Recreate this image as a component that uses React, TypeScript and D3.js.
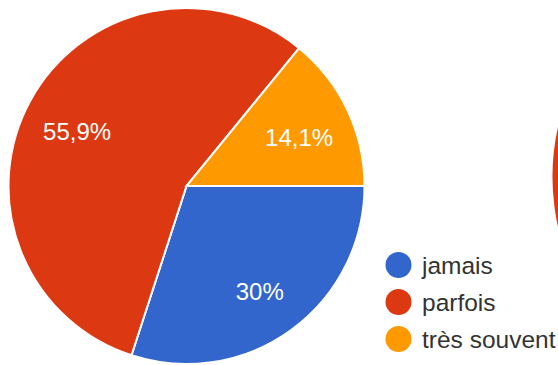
import React from "react";
import * as d3 from "d3";

const categories = ["jamais", "parfois", "très souvent"];
const values = [30, 55.9, 14.1];
const valueLabels = ["30%", "55,9%", "14,1%"];
const colors = ["#3366cc", "#dc3912", "#ff9900"];
// second (cut-off) pie on the right edge: only its left side (parfois) is visible
const secondValues = [25, 60, 15];

const W = 558;
const H = 365;

export default function App() {
  const cx = 186.5;
  const cy = 186;
  const R = 178;
  const pie = d3
    .pie<number>()
    .sort(null)
    .value((d) => d)
    .startAngle(Math.PI / 2)
    .endAngle(Math.PI / 2 + 2 * Math.PI);
  const arcs = pie(values);
  const arc = d3.arc<d3.PieArcDatum<number>>().innerRadius(0).outerRadius(R);
  const labelArc = d3
    .arc<d3.PieArcDatum<number>>()
    .innerRadius(R * 0.7)
    .outerRadius(R * 0.7);

  const R2 = 230;
  const arc2 = d3.arc<d3.PieArcDatum<number>>().innerRadius(0).outerRadius(R2);
  const arcs2 = pie(secondValues);
  const cx2 = 551.5 + R2;
  const cy2 = 177;

  const legendX = 398.5;
  const legendY0 = 265;
  const legendStep = 37;

  return (
    <svg
      width={W}
      height={H}
      style={{ position: "absolute", left: 0, top: 0, background: "#fff" }}
      fontFamily="'Liberation Sans', Arial, sans-serif"
    >
      <g transform={`translate(${cx},${cy})`}>
        {arcs.map((a, i) => (
          <path key={i} d={arc(a) || ""} fill={colors[i]} stroke="#fff" strokeWidth={2} />
        ))}
        {arcs.map((a, i) => {
          const [x, y] = labelArc.centroid(a);
          return (
            <text
              key={"l" + i}
              x={x}
              y={y}
              dy={5}
              textAnchor="middle"
              dominantBaseline="central"
              fill="#fff"
              fontSize={24}
            >
              {valueLabels[i]}
            </text>
          );
        })}
      </g>
      <g transform={`translate(${cx2},${cy2})`}>
        {arcs2.map((a, i) => (
          <path key={i} d={arc2(a) || ""} fill={colors[i]} stroke="#fff" strokeWidth={2} />
        ))}
      </g>
      <g>
        {categories.map((c, i) => (
          <g key={c} transform={`translate(${legendX},${legendY0 + i * legendStep})`}>
            <circle r={13} fill={colors[i]} />
            <text x={23.5} y={0} dominantBaseline="central" fontSize={24.5} fill="#333">
              {c}
            </text>
          </g>
        ))}
      </g>
    </svg>
  );
}
